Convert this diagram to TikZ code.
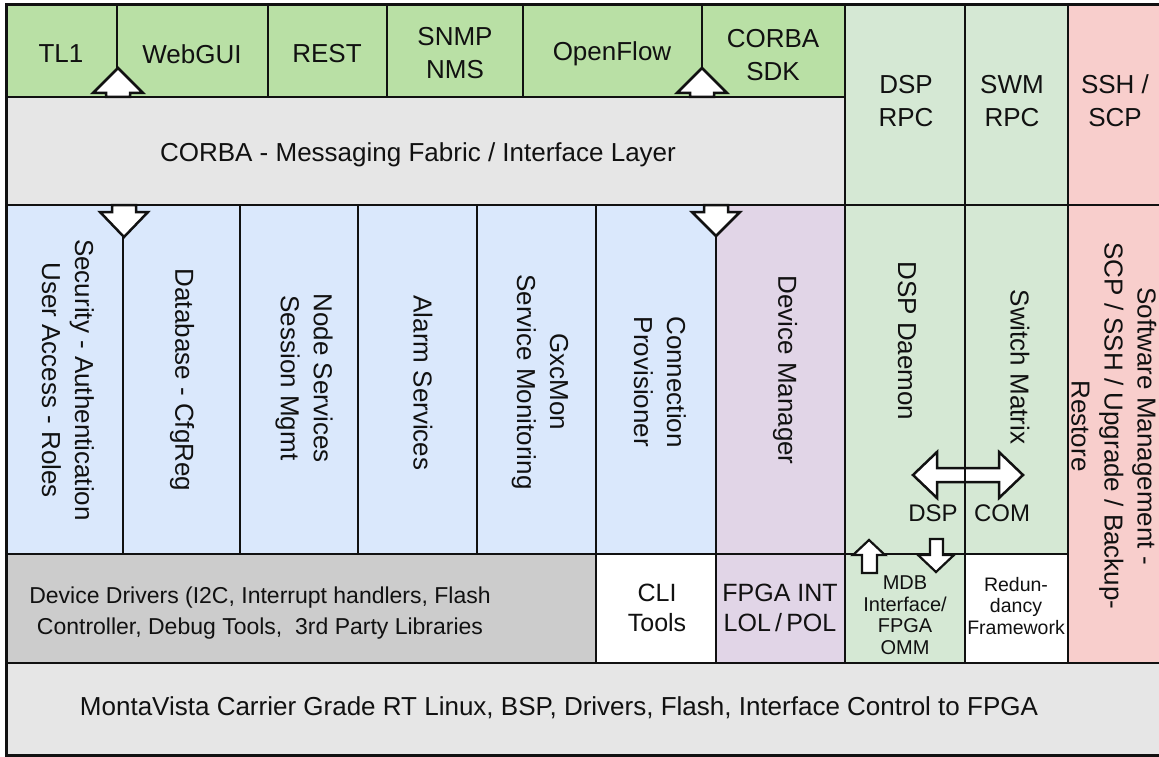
\documentclass[tikz,border=0pt]{standalone}
\usepackage{fontspec}
\setmainfont{Liberation Sans}
\definecolor{topgreen}{HTML}{B9E0A5}
\definecolor{ltgreen}{HTML}{D5E8D4}
\definecolor{ltgray}{HTML}{E6E6E6}
\definecolor{midgray}{HTML}{CCCCCC}
\definecolor{ltblue}{HTML}{DAE8FC}
\definecolor{ltpurple}{HTML}{E1D5E7}
\definecolor{ltpink}{HTML}{F8CECC}
\definecolor{ink}{HTML}{111111}
\tikzset{
  box/.style={draw=ink, line width=1.5pt, inner sep=0pt, outer sep=0pt, anchor=north west},
  lbl/.style={font=\fontsize{26}{33}\selectfont, align=center, text=ink, inner sep=0pt},
  vlbl/.style={lbl, rotate=-90},
  smalllbl/.style={lbl, font=\fontsize{20}{21.5}\selectfont},
  blockarrow/.style={draw=ink, fill=white, line width=2.5pt, line join=miter},
}
\begin{document}
\begin{tikzpicture}[x=1pt, y=-1pt]
\useasboundingbox (0,0) rectangle (1159,757);
\fill[white] (0,0) rectangle (1159,757);
% top row
\node[box, fill=topgreen, minimum width=111pt, minimum height=92pt] (tl1) at (6,5) {};
\node[box, fill=topgreen, minimum width=151pt, minimum height=92pt] (webgui) at (117,5) {};
\node[box, fill=topgreen, minimum width=119pt, minimum height=92pt] (rest) at (268,5) {};
\node[box, fill=topgreen, minimum width=136pt, minimum height=92pt] (snmp) at (387,5) {};
\node[box, fill=topgreen, minimum width=179pt, minimum height=92pt] (openflow) at (523,5) {};
\node[box, fill=topgreen, minimum width=143pt, minimum height=92pt] (corbasdk) at (702,5) {};
\node[box, fill=ltgreen, minimum width=120pt, minimum height=200pt] (dsprpc) at (845,5) {};
\node[box, fill=ltgreen, minimum width=103pt, minimum height=200pt] (swmrpc) at (965,5) {};
\node[box, fill=ltpink, minimum width=110pt, minimum height=200pt] (sshscp) at (1068,5) {};
% corba layer
\node[box, fill=ltgray, minimum width=839pt, minimum height=108pt] (corba) at (6,97) {};
% middle row
\node[box, fill=ltblue, minimum width=117pt, minimum height=349pt] (security) at (6,205) {};
\node[box, fill=ltblue, minimum width=117pt, minimum height=349pt] (database) at (123,205) {};
\node[box, fill=ltblue, minimum width=118pt, minimum height=349pt] (nodesvc) at (240,205) {};
\node[box, fill=ltblue, minimum width=119pt, minimum height=349pt] (alarm) at (358,205) {};
\node[box, fill=ltblue, minimum width=119pt, minimum height=349pt] (gxcmon) at (477,205) {};
\node[box, fill=ltblue, minimum width=120pt, minimum height=349pt] (connprov) at (596,205) {};
\node[box, fill=ltpurple, minimum width=129pt, minimum height=349pt] (devmgr) at (716,205) {};
\node[box, fill=ltgreen, minimum width=120pt, minimum height=349pt] (dspd) at (845,205) {};
\node[box, fill=ltgreen, minimum width=103pt, minimum height=349pt] (swmatrix) at (965,205) {};
\node[box, fill=ltpink, minimum width=110pt, minimum height=458pt] (swmgmt) at (1068,205) {};
% bottom row
\node[box, fill=midgray, minimum width=590pt, minimum height=109pt] (drivers) at (6,554) {};
\node[box, fill=white, minimum width=120pt, minimum height=109pt] (cli) at (596,554) {};
\node[box, fill=ltpurple, minimum width=129pt, minimum height=109pt] (fpga) at (716,554) {};
\node[box, fill=ltgreen, minimum width=120pt, minimum height=109pt] (mdb) at (845,554) {};
\node[box, fill=white, minimum width=103pt, minimum height=109pt] (redund) at (965,554) {};
\node[box, fill=ltgray, minimum width=1172pt, minimum height=92pt] (monta) at (6,663) {};
% outer frame
\draw[ink, line width=3pt] (1178,5) -- (6,5) -- (6,755) -- (1178,755);

% labels
\node[lbl] (tl1t) at (61,54) {TL1};
\node[lbl] (webguit) at (192,54) {WebGUI};
\node[lbl] (restt) at (327,54) {REST};
\node[lbl] (snmpt) at (455,53) {SNMP\\NMS};
\node[lbl] (openflowt) at (612,54) {OpenFlow};
\node[lbl] (corbasdkt) at (773,55) {CORBA\\SDK};
\node[lbl] (dsprpct) at (906,101) {DSP\\RPC};
\node[lbl] (swmrpct) at (1012,101) {SWM\\RPC};
\node[lbl] (sshscpt) at (1115,101) {SSH /\\SCP};
\node[lbl] (corbat) at (418,155) {CORBA - Messaging Fabric / Interface Layer};

\node[vlbl] (securityt) at (68,380) {Security - Authentication\\User Access - Roles};
\node[vlbl] (databaset) at (182,380) {Database - CfgReg};
\node[vlbl] (nodesvct) at (304,378) {Node Services\\Session Mgmt};
\node[vlbl] (alarmt) at (423,383) {Alarm Services};
\node[vlbl] (gxcmont) at (540,382) {GxcMon\\Service Monitoring};
\node[vlbl] (connprovt) at (660,382) {Connection\\Provisioner};
\node[vlbl] (devmgrt) at (785,370) {Device Manager};
\node[vlbl] (dspdt) at (907,341) {DSP Daemon};
\node[vlbl] (swmatrixt) at (1020,367) {Switch Matrix};
\node[vlbl] (swmgmtt) at (1114,426) {Software Management -\\SCP / SSH / Upgrade / Backup-\\Restore};

\node[lbl, font=\fontsize{23}{31}\selectfont] (driverst) at (260,613) {Device Drivers (I2C, Interrupt handlers, Flash\\Controller, Debug Tools,~ 3rd Party Libraries};
\node[lbl, font=\fontsize{25}{30}\selectfont] (clit) at (657,608) {CLI\\Tools};
\node[lbl, font=\fontsize{25}{30}\selectfont] (fpgat) at (780,608) {FPGA INT\\LOL\thinspace/\thinspace POL};
\node[smalllbl] (mdbt) at (905,615) {MDB\\Interface/\\FPGA\\OMM};
\node[smalllbl, font=\fontsize{19.5}{21.5}\selectfont] (redundt) at (1016,606) {Redun-\\dancy\\Framework};
\node[lbl] (montat) at (559,708) {MontaVista Carrier Grade RT Linux, BSP, Drivers, Flash, Interface Control to FPGA};

% block arrows
\draw[blockarrow] (106,97) -- (106,93) -- (93,93) -- (118,68) -- (143,93) -- (130,93) -- (130,97) -- cycle;
\draw[blockarrow] (690,97) -- (690,93) -- (677,93) -- (702,68) -- (727,93) -- (714,93) -- (714,97) -- cycle;
\draw[blockarrow] (112,205) -- (112,212) -- (100,212) -- (124,237) -- (148,212) -- (136,212) -- (136,205) -- cycle;
\draw[blockarrow] (704,205) -- (704,212) -- (692,212) -- (716,236) -- (740,212) -- (728,212) -- (728,205) -- cycle;
\draw[blockarrow] (913,475) -- (937,452) -- (937,468) -- (999,468) -- (999,452) -- (1023,475) -- (999,498) -- (999,482) -- (937,482) -- (937,498) -- cycle;
\draw[ink, line width=1.5pt] (dspd.north east) -- (dspd.south east);
\node[lbl, font=\fontsize{24}{28}\selectfont] (dsplbl) at (933,513) {DSP};
\node[lbl, font=\fontsize{24}{28}\selectfont] (comlbl) at (1002,513) {COM};
\draw[blockarrow, line width=2.2pt] (862,573) -- (862,555) -- (853,555) -- (869,540) -- (885,555) -- (877,555) -- (877,573) -- cycle;
\draw[blockarrow, line width=2.2pt] (930,539) -- (930,555) -- (918,555) -- (936,572) -- (954,555) -- (943,555) -- (943,539) -- cycle;
\end{tikzpicture}
\end{document}
